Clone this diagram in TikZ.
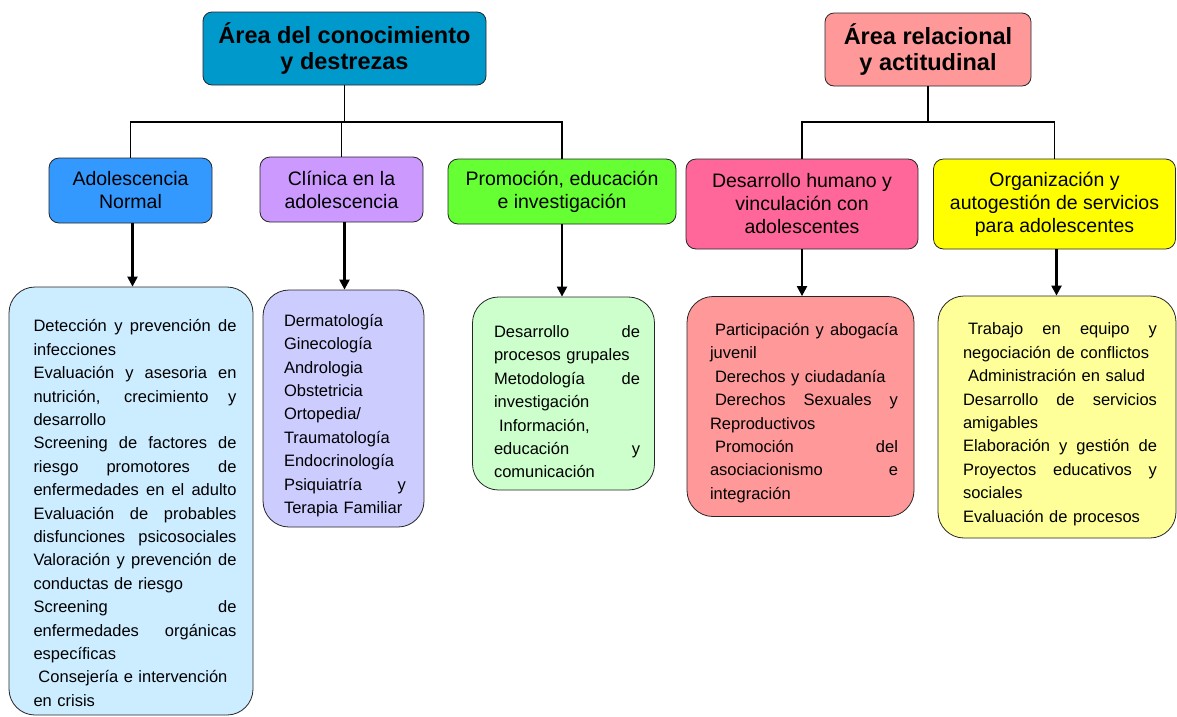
\documentclass[tikz,border=0pt]{standalone}
\usepackage{fontspec}
\setmainfont{Liberation Sans}
\usepackage{graphicx}
\usetikzlibrary{arrows.meta}
\definecolor{cTa}{HTML}{0099CC}
\definecolor{cTb}{HTML}{FF9999}
\definecolor{cNa}{HTML}{3399FF}
\definecolor{cNb}{HTML}{CC99FF}
\definecolor{cNc}{HTML}{66FF33}
\definecolor{cNd}{HTML}{FF6699}
\definecolor{cNe}{HTML}{FFFF00}
\definecolor{cDa}{HTML}{CCECFF}
\definecolor{cDb}{HTML}{CCCCFF}
\definecolor{cDc}{HTML}{CCFFCC}
\definecolor{cDd}{HTML}{FF9999}
\definecolor{cDe}{HTML}{FFFF99}
\setlength\parindent{0pt}
\setlength\parskip{0pt}
\newsavebox\lnbox
\newdimen\lnwd
\newcommand\JustL[1]{\par\sbox\lnbox{#1}\ifdim\wd\lnbox>\lnwd\resizebox{\lnwd}{\height}{\usebox\lnbox}\else\hbox to\lnwd{\spaceskip=.25em plus 1fil\relax #1}\fi\par}
\newcommand\LeftL[1]{\par\sbox\lnbox{#1}\ifdim\wd\lnbox>\lnwd\resizebox{\lnwd}{\height}{\usebox\lnbox}\else\hbox to\lnwd{#1\hfil}\fi\par}
\newcommand\ind{\hspace*{5pt}}
\tikzset{
  topbox/.style={draw=black!85, line width=0.8pt, rounded corners=9pt, align=center, inner sep=0pt,
    font=\bfseries\fontsize{23.5}{26}\selectfont},
  headbox/.style={draw=black!85, line width=0.8pt, rounded corners=10pt, align=center, inner sep=0pt,
    font=\fontsize{19.5}{23}\selectfont},
  detbox/.style={draw=black!85, line width=0.8pt, rounded corners=26pt, inner sep=0pt},
  dettext/.style={inner sep=0pt, align=left, font=\fontsize{16.5}{23.4}\selectfont},
  bus/.style={draw=black, line width=1.1pt},
  arr/.style={draw=black, line width=2.2pt, -{Triangle[length=10pt,width=10pt]}}
}
\begin{document}
\begin{tikzpicture}[x=1pt,y=-1pt]
\useasboundingbox (0,0) rectangle (1177,716);
% top boxes
\node[topbox, fill=cTa, minimum width=283pt, minimum height=73pt] (T1) at (344.5,48.5) {Área del conocimiento\\y destrezas};
\node[topbox, fill=cTb, minimum width=206pt, minimum height=73pt] (T2) at (928,49.5) {Área relacional\\y actitudinal};
% level 2
\node[headbox, fill=cNa, minimum width=163pt, minimum height=65pt] (N1) at (130.5,190.5) {Adolescencia\\Normal};
\node[headbox, fill=cNb, minimum width=163pt, minimum height=65pt] (N2) at (341.5,189.5) {Clínica en la\\adolescencia};
\node[headbox, fill=cNc, minimum width=228pt, minimum height=65pt] (N3) at (562,191.5) {Promoción, educación\\e investigación};
\node[headbox, fill=cNd, minimum width=232pt, minimum height=90pt] (N4) at (802,204) {Desarrollo humano y\\vinculación con\\adolescentes};
\node[headbox, fill=cNe, minimum width=242pt, minimum height=90pt] (N5) at (1054.5,204) {Organización y\\autogestión de servicios\\para adolescentes};
% detail boxes
\node[detbox, fill=cDa, minimum width=244pt, minimum height=428pt] (D1) at (131,501) {};
\node[detbox, fill=cDb, minimum width=161pt, minimum height=237pt] (D2) at (343.5,408.5) {};
\node[detbox, fill=cDc, minimum width=182pt, minimum height=193pt] (D3) at (563.5,393.5) {};
\node[detbox, fill=cDd, minimum width=227pt, minimum height=220pt] (D4) at (800.5,406.5) {};
\node[detbox, fill=cDe, minimum width=238pt, minimum height=242pt] (D5) at (1057,417) {};
% texts
\node[dettext, text width=203pt] (X1) at (135,507.5) {\lnwd=203pt
\JustL{Detección y prevención de}
\LeftL{infecciones}
\JustL{Evaluación y asesoria en}
\JustL{nutrición, crecimiento y}
\LeftL{desarrollo}
\JustL{Screening de factores de}
\JustL{riesgo promotores de}
\JustL{enfermedades en el adulto}
\JustL{Evaluación de probables}
\JustL{disfunciones psicosociales}
\JustL{Valoración y prevención de}
\LeftL{conductas de riesgo}
\JustL{Screening de}
\JustL{enfermedades orgánicas}
\LeftL{específicas}
\LeftL{\ind Consejería e intervención}
\LeftL{en crisis}};
\node[dettext, text width=122pt] (X2) at (345,410) {\lnwd=122pt
\LeftL{Dermatología}
\LeftL{Ginecología}
\LeftL{Andrologia}
\LeftL{Obstetricia}
\LeftL{Ortopedia/}
\LeftL{Traumatología}
\LeftL{Endocrinología}
\JustL{Psiquiatría y}
\LeftL{Terapia Familiar}};
\node[dettext, text width=146pt] (X3) at (567,396) {\lnwd=146pt
\JustL{Desarrollo de}
\LeftL{procesos grupales}
\JustL{Metodología de}
\LeftL{investigación}
\LeftL{\ind Información,}
\JustL{educación y}
\LeftL{comunicación}};
\node[dettext, text width=188pt] (X4) at (804,407.5) {\lnwd=188pt
\JustL{\ind Participación y abogacía}
\LeftL{juvenil}
\LeftL{\ind Derechos y ciudadanía}
\JustL{\ind Derechos Sexuales y}
\LeftL{Reproductivos}
\JustL{\ind Promoción del}
\JustL{asociacionismo e}
\LeftL{integración}};
\node[dettext, text width=194pt] (X5) at (1060,418.5) {\lnwd=194pt
\JustL{\ind Trabajo en equipo y}
\LeftL{negociación de conflictos}
\LeftL{\ind Administración en salud}
\JustL{Desarrollo de servicios}
\LeftL{amigables}
\JustL{Elaboración y gestión de}
\JustL{Proyectos educativos y}
\LeftL{sociales}
\LeftL{Evaluación de procesos}};
% buses
\coordinate (BL) at (345,122);
\coordinate (BR) at (928,122);
\draw[bus] (T1.south) -- (T1.south |- BL);
\draw[bus] (N1.north) |- (BL) -| (N3.north);
\draw[bus] (N2.north) -- (N2.north |- BL);
\draw[bus] (T2.south) -- (T2.south |- BR);
\draw[bus] (N4.north) |- (BR) -| (N5.north);
% arrows
\draw[arr] (N1.south) ++(2,0) coordinate (a1) -- (a1 |- D1.north);
\draw[arr] (N2.south) ++(3,0) coordinate (a2) -- (a2 |- D2.north);
\draw[arr] (N3.south) -- (N3.south |- D3.north);
\draw[arr] (N4.south) -- (N4.south |- D4.north);
\draw[arr] (N5.south) ++(2,0) coordinate (a5) -- (a5 |- D5.north);
\end{tikzpicture}
\end{document}
